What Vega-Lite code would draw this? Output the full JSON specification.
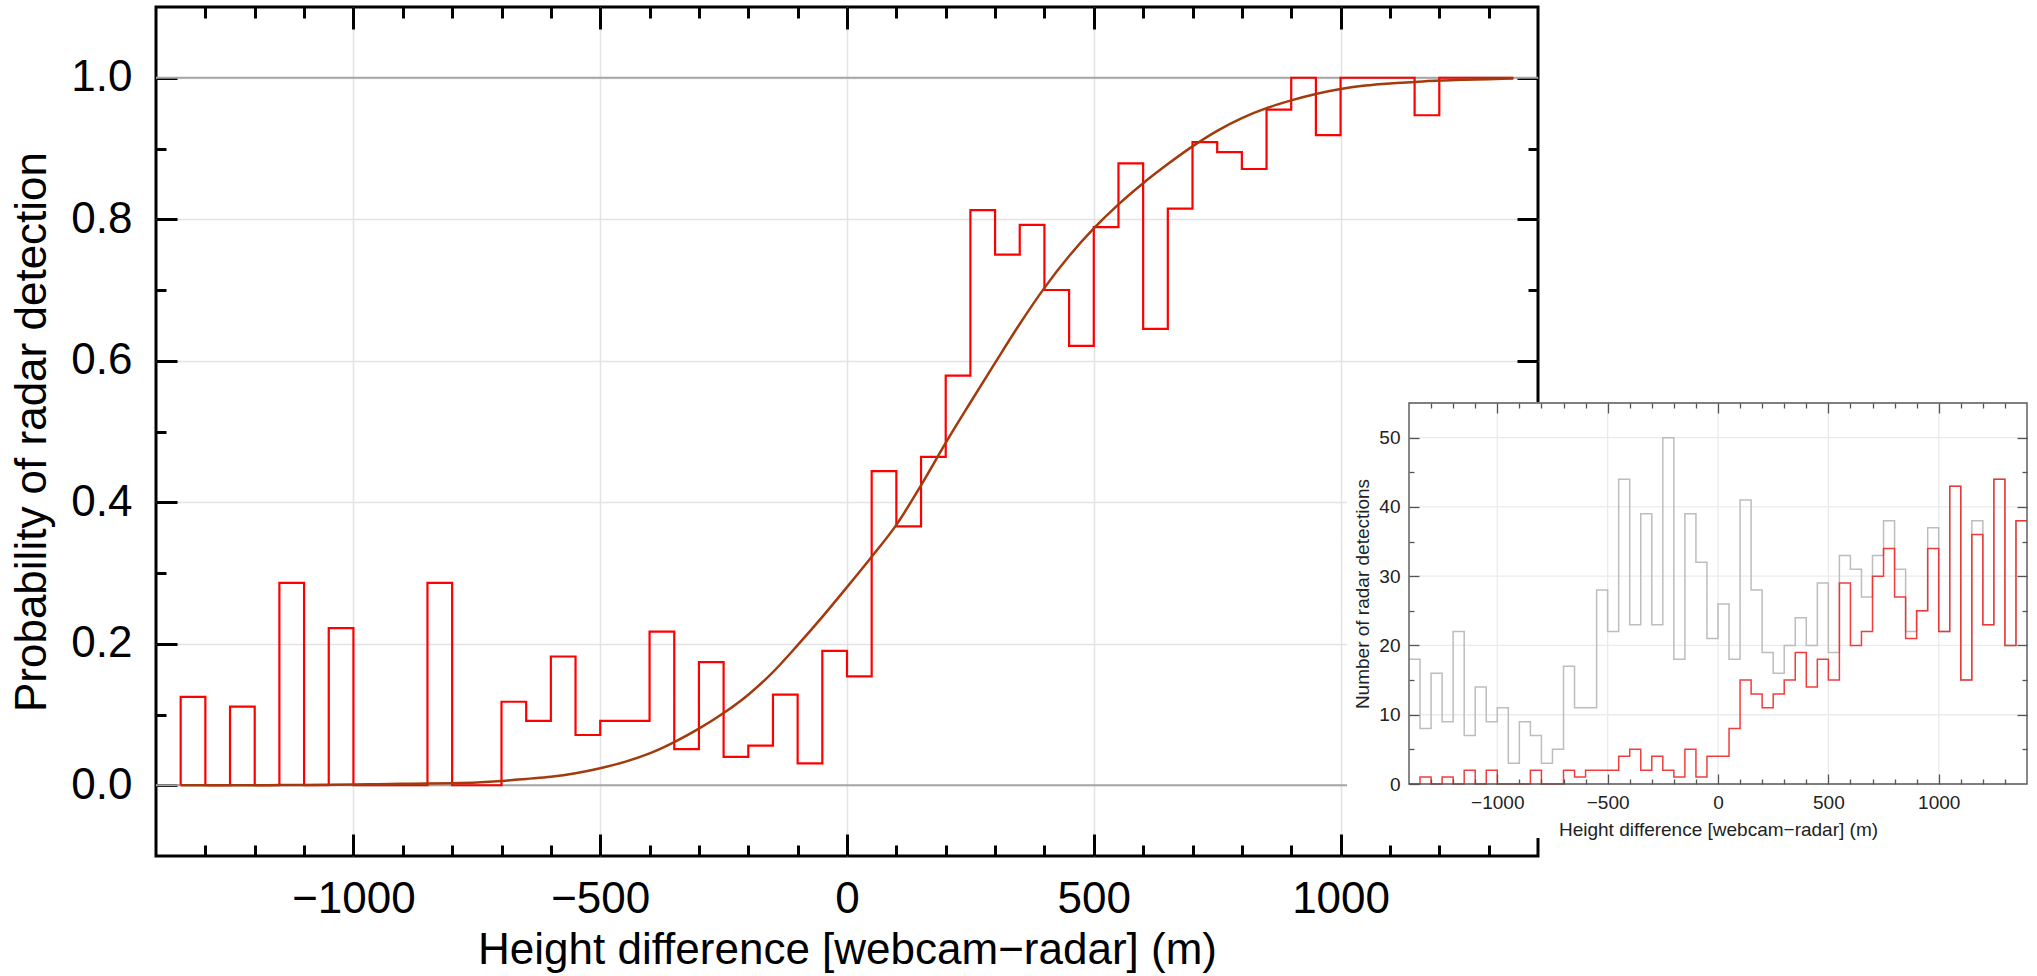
{
  "$schema": "https://vega.github.io/schema/vega-lite/v6.json",
  "width": 1382,
  "height": 849,
  "autosize": {"type": "none"},
  "padding": {"left": 156, "top": 7, "right": 499, "bottom": 120},
  "background": "white",
  "config": {
    "view": {"stroke": "#000000", "strokeWidth": 3},
    "font": "Liberation Sans",
    "axis": {"labelFont": "Liberation Sans", "titleFont": "Liberation Sans", "titleFontWeight": "normal", "domain": false, "labelFlush": false, "labelOverlap": false}
  },
  "datasets": {
    "ref": [{"y": 0}, {"y": 1}],
    "prob": [
      {"i": 0, "x": -1350, "p": 0},
      {"i": 1, "x": -1350, "p": 0.125},
      {"i": 2, "x": -1300, "p": 0},
      {"i": 3, "x": -1250, "p": 0.111},
      {"i": 4, "x": -1200, "p": 0},
      {"i": 5, "x": -1150, "p": 0.286},
      {"i": 6, "x": -1100, "p": 0},
      {"i": 7, "x": -1050, "p": 0.222},
      {"i": 8, "x": -1000, "p": 0},
      {"i": 9, "x": -950, "p": 0},
      {"i": 10, "x": -900, "p": 0},
      {"i": 11, "x": -850, "p": 0.286},
      {"i": 12, "x": -800, "p": 0},
      {"i": 13, "x": -750, "p": 0},
      {"i": 14, "x": -700, "p": 0.118},
      {"i": 15, "x": -650, "p": 0.091},
      {"i": 16, "x": -600, "p": 0.182},
      {"i": 17, "x": -550, "p": 0.071},
      {"i": 18, "x": -500, "p": 0.091},
      {"i": 19, "x": -450, "p": 0.091},
      {"i": 20, "x": -400, "p": 0.217},
      {"i": 21, "x": -350, "p": 0.051},
      {"i": 22, "x": -300, "p": 0.174},
      {"i": 23, "x": -250, "p": 0.04},
      {"i": 24, "x": -200, "p": 0.056},
      {"i": 25, "x": -150, "p": 0.128},
      {"i": 26, "x": -100, "p": 0.031},
      {"i": 27, "x": -50, "p": 0.19},
      {"i": 28, "x": 0, "p": 0.154},
      {"i": 29, "x": 50, "p": 0.444},
      {"i": 30, "x": 100, "p": 0.366},
      {"i": 31, "x": 150, "p": 0.464},
      {"i": 32, "x": 200, "p": 0.579},
      {"i": 33, "x": 250, "p": 0.813},
      {"i": 34, "x": 300, "p": 0.75},
      {"i": 35, "x": 350, "p": 0.792},
      {"i": 36, "x": 400, "p": 0.7},
      {"i": 37, "x": 450, "p": 0.621},
      {"i": 38, "x": 500, "p": 0.789},
      {"i": 39, "x": 550, "p": 0.879},
      {"i": 40, "x": 600, "p": 0.645},
      {"i": 41, "x": 650, "p": 0.815},
      {"i": 42, "x": 700, "p": 0.909},
      {"i": 43, "x": 750, "p": 0.895},
      {"i": 44, "x": 800, "p": 0.871},
      {"i": 45, "x": 850, "p": 0.955},
      {"i": 46, "x": 900, "p": 1},
      {"i": 47, "x": 950, "p": 0.919},
      {"i": 48, "x": 1000, "p": 1},
      {"i": 49, "x": 1050, "p": 1},
      {"i": 50, "x": 1100, "p": 1},
      {"i": 51, "x": 1150, "p": 0.947},
      {"i": 52, "x": 1200, "p": 1},
      {"i": 53, "x": 1250, "p": 1},
      {"i": 54, "x": 1300, "p": 1},
      {"i": 55, "x": 1350, "p": 1}
    ],
    "fit": [
      {"x": -1350, "p": 0}, {"x": -1300, "p": 0}, {"x": -1250, "p": 0}, {"x": -1200, "p": 0},
      {"x": -1150, "p": 0.0002}, {"x": -1100, "p": 0.0005}, {"x": -1050, "p": 0.0007}, {"x": -1000, "p": 0.001},
      {"x": -950, "p": 0.0015}, {"x": -900, "p": 0.002}, {"x": -850, "p": 0.0025}, {"x": -800, "p": 0.003},
      {"x": -750, "p": 0.004}, {"x": -700, "p": 0.006}, {"x": -650, "p": 0.009}, {"x": -600, "p": 0.012},
      {"x": -550, "p": 0.017}, {"x": -500, "p": 0.024}, {"x": -450, "p": 0.033}, {"x": -400, "p": 0.045},
      {"x": -350, "p": 0.061}, {"x": -300, "p": 0.08}, {"x": -250, "p": 0.102}, {"x": -200, "p": 0.128},
      {"x": -150, "p": 0.16}, {"x": -100, "p": 0.198}, {"x": -50, "p": 0.238}, {"x": 0, "p": 0.28},
      {"x": 50, "p": 0.323}, {"x": 100, "p": 0.368}, {"x": 150, "p": 0.424}, {"x": 200, "p": 0.484},
      {"x": 250, "p": 0.541}, {"x": 300, "p": 0.597}, {"x": 350, "p": 0.652}, {"x": 400, "p": 0.703},
      {"x": 450, "p": 0.748}, {"x": 500, "p": 0.787}, {"x": 550, "p": 0.821}, {"x": 600, "p": 0.851},
      {"x": 650, "p": 0.878}, {"x": 700, "p": 0.903}, {"x": 750, "p": 0.925}, {"x": 800, "p": 0.943},
      {"x": 850, "p": 0.957}, {"x": 900, "p": 0.968}, {"x": 950, "p": 0.977}, {"x": 1000, "p": 0.984},
      {"x": 1050, "p": 0.989}, {"x": 1100, "p": 0.992}, {"x": 1150, "p": 0.994}, {"x": 1200, "p": 0.996},
      {"x": 1250, "p": 0.997}, {"x": 1300, "p": 0.998}, {"x": 1350, "p": 0.999}
    ],
    "counts": [
      {"x": -1400, "all": 18, "radar": 0}, {"x": -1350, "all": 8, "radar": 1},
      {"x": -1300, "all": 16, "radar": 0}, {"x": -1250, "all": 9, "radar": 1},
      {"x": -1200, "all": 22, "radar": 0}, {"x": -1150, "all": 7, "radar": 2},
      {"x": -1100, "all": 14, "radar": 0}, {"x": -1050, "all": 9, "radar": 2},
      {"x": -1000, "all": 11, "radar": 0}, {"x": -950, "all": 3, "radar": 0},
      {"x": -900, "all": 9, "radar": 0}, {"x": -850, "all": 7, "radar": 2},
      {"x": -800, "all": 3, "radar": 0}, {"x": -750, "all": 5, "radar": 0},
      {"x": -700, "all": 17, "radar": 2}, {"x": -650, "all": 11, "radar": 1},
      {"x": -600, "all": 11, "radar": 2}, {"x": -550, "all": 28, "radar": 2},
      {"x": -500, "all": 22, "radar": 2}, {"x": -450, "all": 44, "radar": 4},
      {"x": -400, "all": 23, "radar": 5}, {"x": -350, "all": 39, "radar": 2},
      {"x": -300, "all": 23, "radar": 4}, {"x": -250, "all": 50, "radar": 2},
      {"x": -200, "all": 18, "radar": 1}, {"x": -150, "all": 39, "radar": 5},
      {"x": -100, "all": 32, "radar": 1}, {"x": -50, "all": 21, "radar": 4},
      {"x": 0, "all": 26, "radar": 4}, {"x": 50, "all": 18, "radar": 8},
      {"x": 100, "all": 41, "radar": 15}, {"x": 150, "all": 28, "radar": 13},
      {"x": 200, "all": 19, "radar": 11}, {"x": 250, "all": 16, "radar": 13},
      {"x": 300, "all": 20, "radar": 15}, {"x": 350, "all": 24, "radar": 19},
      {"x": 400, "all": 20, "radar": 14}, {"x": 450, "all": 29, "radar": 18},
      {"x": 500, "all": 19, "radar": 15}, {"x": 550, "all": 33, "radar": 29},
      {"x": 600, "all": 31, "radar": 20}, {"x": 650, "all": 27, "radar": 22},
      {"x": 700, "all": 33, "radar": 30}, {"x": 750, "all": 38, "radar": 34},
      {"x": 800, "all": 31, "radar": 27}, {"x": 850, "all": 22, "radar": 21},
      {"x": 900, "all": 25, "radar": 25}, {"x": 950, "all": 37, "radar": 34},
      {"x": 1000, "all": 22, "radar": 22}, {"x": 1050, "all": 43, "radar": 43},
      {"x": 1100, "all": 15, "radar": 15}, {"x": 1150, "all": 38, "radar": 36},
      {"x": 1200, "all": 23, "radar": 23}, {"x": 1250, "all": 44, "radar": 44},
      {"x": 1300, "all": 20, "radar": 20}, {"x": 1350, "all": 38, "radar": 38},
      {"x": 1400, "all": 38, "radar": 38}
    ],
    "igx": [{"v": -1000}, {"v": -500}, {"v": 0}, {"v": 500}, {"v": 1000}],
    "igy": [{"v": 10}, {"v": 20}, {"v": 30}, {"v": 40}, {"v": 50}],
    "panel": [{"panel": "inset"}]
  },
  "layer": [
    {
      "layer": [
        {
          "data": {"name": "ref"},
          "mark": {"type": "rule", "color": "#a6a6a6", "strokeWidth": 2},
          "encoding": {
            "y": {
              "field": "y", "type": "quantitative",
              "scale": {"domain": [-0.1, 1.1], "nice": false, "zero": false},
              "axis": {
                "orient": "left", "zindex": 0,
                "values": [0, 0.1, 0.2, 0.3, 0.4, 0.5, 0.6, 0.7, 0.8, 0.9, 1.0],
                "tickColor": "#000000", "tickWidth": 3,
                "tickSize": {"condition": {"test": "round(datum.value*10) % 2 == 0", "value": -21}, "value": -10},
                "labelExpr": "round(datum.value*10) % 2 == 0 ? format(datum.value, '.1f') : ''",
                "labelFontSize": 44, "labelColor": "#000000", "labelPadding": 45,
                "title": "Probability of radar detection", "titleFontSize": 44, "titleColor": "#000000", "titlePadding": 16,
                "grid": true, "gridColor": "#e3e3e3", "gridWidth": 1.5,
                "gridOpacity": {"condition": {"test": "round(datum.value*10) % 2 == 0", "value": 1}, "value": 0}
              }
            }
          }
        },
        {
          "data": {"name": "prob"},
          "mark": {"type": "line", "interpolate": "step-after", "color": "#ff0000", "strokeWidth": 2.2},
          "encoding": {
            "x": {
              "field": "x", "type": "quantitative",
              "scale": {"domain": [-1400, 1400], "nice": false, "zero": false},
              "axis": {
                "orient": "bottom", "zindex": 0,
                "values": [-1300, -1200, -1100, -1000, -900, -800, -700, -600, -500, -400, -300, -200, -100, 0, 100, 200, 300, 400, 500, 600, 700, 800, 900, 1000, 1100, 1200, 1300],
                "tickColor": "#000000", "tickWidth": 3,
                "tickSize": {"condition": {"test": "datum.value % 500 == 0", "value": -22}, "value": -11},
                "labelExpr": "datum.value % 500 == 0 ? format(datum.value, 'd') : ''",
                "labelFontSize": 44, "labelColor": "#000000", "labelPadding": 43,
                "title": "Height difference [webcam−radar] (m)", "titleFontSize": 44, "titleColor": "#000000", "titlePadding": -4,
                "grid": true, "gridColor": "#e3e3e3", "gridWidth": 1.5,
                "gridOpacity": {"condition": {"test": "datum.value % 500 == 0", "value": 1}, "value": 0}
              }
            },
            "y": {
              "field": "p", "type": "quantitative",
              "scale": {"domain": [-0.1, 1.1], "nice": false, "zero": false},
              "axis": {
                "orient": "right", "zindex": 0, "labels": false, "title": null, "grid": false,
                "values": [0, 0.1, 0.2, 0.3, 0.4, 0.5, 0.6, 0.7, 0.8, 0.9, 1.0],
                "tickColor": "#000000", "tickWidth": 3,
                "tickSize": {"condition": {"test": "round(datum.value*10) % 2 == 0", "value": -21}, "value": -10}
              }
            },
            "order": {"field": "i", "type": "quantitative"}
          }
        },
        {
          "data": {"name": "fit"},
          "mark": {"type": "line", "interpolate": "monotone", "color": "#a33a0c", "strokeWidth": 2.5},
          "encoding": {
            "x": {
              "field": "x", "type": "quantitative",
              "scale": {"domain": [-1400, 1400], "nice": false, "zero": false},
              "axis": {
                "orient": "top", "zindex": 0, "labels": false, "title": null, "grid": false,
                "values": [-1300, -1200, -1100, -1000, -900, -800, -700, -600, -500, -400, -300, -200, -100, 0, 100, 200, 300, 400, 500, 600, 700, 800, 900, 1000, 1100, 1200, 1300],
                "tickColor": "#000000", "tickWidth": 3,
                "tickSize": {"condition": {"test": "datum.value % 500 == 0", "value": -22}, "value": -11}
              }
            },
            "y": {
              "field": "p", "type": "quantitative",
              "scale": {"domain": [-0.1, 1.1], "nice": false, "zero": false},
              "axis": null
            }
          }
        }
      ],
      "resolve": {"axis": {"x": "independent", "y": "independent"}}
    },
    {
      "layer": [
        {
          "data": {"name": "panel"},
          "mark": {"type": "rect", "fill": "#ffffff", "strokeWidth": 0},
          "encoding": {
            "x": {"datum": -1681, "type": "quantitative", "scale": {"domain": [-1400, 1400], "range": [1253, 1871], "nice": false, "zero": false}, "axis": null},
            "x2": {"datum": 1445},
            "y": {"datum": -7.8, "type": "quantitative", "scale": {"domain": [0, 55], "range": [777, 396], "nice": false, "zero": false}, "axis": null},
            "y2": {"datum": 55.15}
          }
        },
        {
          "data": {"name": "igx"},
          "mark": {"type": "rule", "color": "#ebebeb", "strokeWidth": 1.3},
          "encoding": {
            "x": {
              "field": "v", "type": "quantitative",
              "scale": {"domain": [-1400, 1400], "range": [1253, 1871], "nice": false, "zero": false},
              "axis": {
                "orient": "bottom", "offset": -72, "zindex": 1,
                "values": [-1300, -1200, -1100, -1000, -900, -800, -700, -600, -500, -400, -300, -200, -100, 0, 100, 200, 300, 400, 500, 600, 700, 800, 900, 1000, 1100, 1200, 1300],
                "tickColor": "#555555", "tickWidth": 1.3,
                "tickSize": {"condition": {"test": "datum.value % 500 == 0", "value": -10}, "value": -5},
                "labelExpr": "datum.value % 500 == 0 ? format(datum.value, 'd') : ''",
                "labelFontSize": 19, "labelColor": "#222222", "labelPadding": 19,
                "title": "Height difference [webcam−radar] (m)", "titleFontSize": 19, "titleColor": "#222222", "titlePadding": 3,
                "grid": false
              }
            },
            "y": {"datum": 0, "type": "quantitative", "scale": {"domain": [0, 55], "range": [777, 396], "nice": false, "zero": false}, "axis": null},
            "y2": {"datum": 55}
          }
        },
        {
          "data": {"name": "igy"},
          "mark": {"type": "rule", "color": "#ebebeb", "strokeWidth": 1.3},
          "encoding": {
            "y": {
              "field": "v", "type": "quantitative",
              "scale": {"domain": [0, 55], "range": [777, 396], "nice": false, "zero": false},
              "axis": {
                "orient": "left", "offset": -1253, "zindex": 1,
                "values": [0, 5, 10, 15, 20, 25, 30, 35, 40, 45, 50],
                "tickColor": "#555555", "tickWidth": 1.3,
                "tickSize": {"condition": {"test": "datum.value % 10 == 0", "value": -10}, "value": -5},
                "labelExpr": "datum.value % 10 == 0 ? format(datum.value, 'd') : ''",
                "labelFontSize": 19, "labelColor": "#222222", "labelPadding": 19,
                "title": "Number of radar detections", "titleFontSize": 19, "titleColor": "#222222", "titlePadding": 6,
                "grid": false
              }
            },
            "x": {"datum": -1400, "type": "quantitative", "scale": {"domain": [-1400, 1400], "range": [1253, 1871], "nice": false, "zero": false}, "axis": null},
            "x2": {"datum": 1400}
          }
        },
        {
          "data": {"name": "counts"},
          "mark": {"type": "line", "interpolate": "step-after", "color": "#bdbdbd", "strokeWidth": 1.5},
          "encoding": {
            "x": {
              "field": "x", "type": "quantitative",
              "scale": {"domain": [-1400, 1400], "range": [1253, 1871], "nice": false, "zero": false},
              "axis": {
                "orient": "top", "offset": -396, "zindex": 1, "labels": false, "title": null, "grid": false,
                "values": [-1300, -1200, -1100, -1000, -900, -800, -700, -600, -500, -400, -300, -200, -100, 0, 100, 200, 300, 400, 500, 600, 700, 800, 900, 1000, 1100, 1200, 1300],
                "tickColor": "#555555", "tickWidth": 1.3,
                "tickSize": {"condition": {"test": "datum.value % 500 == 0", "value": -10}, "value": -5}
              }
            },
            "y": {
              "field": "all", "type": "quantitative",
              "scale": {"domain": [0, 55], "range": [777, 396], "nice": false, "zero": false},
              "axis": {
                "orient": "right", "offset": 489, "zindex": 1, "labels": false, "title": null, "grid": false,
                "values": [5, 10, 15, 20, 25, 30, 35, 40, 45, 50],
                "tickColor": "#555555", "tickWidth": 1.3,
                "tickSize": {"condition": {"test": "datum.value % 10 == 0", "value": -10}, "value": -5}
              }
            }
          }
        },
        {
          "data": {"name": "counts"},
          "mark": {"type": "line", "interpolate": "step-after", "color": "#f02828", "strokeWidth": 1.5, "opacity": 0.9},
          "encoding": {
            "x": {"field": "x", "type": "quantitative", "scale": {"domain": [-1400, 1400], "range": [1253, 1871], "nice": false, "zero": false}, "axis": null},
            "y": {"field": "radar", "type": "quantitative", "scale": {"domain": [0, 55], "range": [777, 396], "nice": false, "zero": false}, "axis": null}
          }
        },
        {
          "data": {"name": "panel"},
          "mark": {"type": "rect", "fill": null, "fillOpacity": 0, "stroke": "#555555", "strokeWidth": 1.4},
          "encoding": {
            "x": {"datum": -1400, "type": "quantitative", "scale": {"domain": [-1400, 1400], "range": [1253, 1871], "nice": false, "zero": false}, "axis": null},
            "x2": {"datum": 1400},
            "y": {"datum": 0, "type": "quantitative", "scale": {"domain": [0, 55], "range": [777, 396], "nice": false, "zero": false}, "axis": null},
            "y2": {"datum": 55}
          }
        }
      ],
      "resolve": {"axis": {"x": "independent", "y": "independent"}}
    }
  ],
  "resolve": {"scale": {"x": "independent", "y": "independent"}, "axis": {"x": "independent", "y": "independent"}}
}
